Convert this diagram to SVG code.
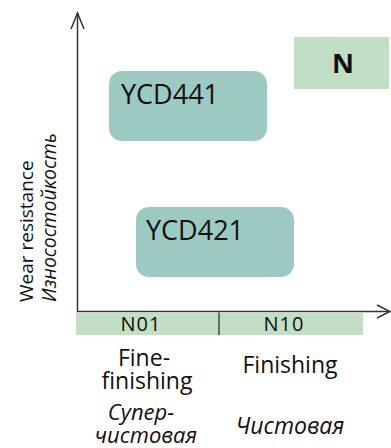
<svg xmlns="http://www.w3.org/2000/svg" width="391" height="448" viewBox="0 0 391 448">
<style>
.t{font-family:"Open Sans","Noto Sans",sans-serif;fill:#111}
.box{fill:#9ccac2}
.lt{fill:#c2dfc6}
.ax{stroke:#333;stroke-width:1.5;fill:none}
</style>
<rect width="391" height="448" fill="#fff"/>
<g id="legend-N">
<rect class="lt" x="294" y="37" width="95" height="52"/>
<text class="t" x="343" y="73" font-size="27" font-weight="bold" text-anchor="middle">N</text>
</g>
<g id="YCD441">
<rect class="box" x="109" y="71" width="158" height="70" rx="13"/>
<text class="t" x="121" y="104" font-size="27">YCD441</text>
</g>
<g id="YCD421">
<rect class="box" x="136" y="207" width="158" height="70" rx="13"/>
<text class="t" x="146" y="240" font-size="27">YCD421</text>
</g>
<g id="connectors">
<path class="ax" d="M77.5 13 V311.5 H390"/>
<path class="ax" d="M71 29 L77.5 13 L84 29"/>
<path class="ax" d="M377 305 L390 311.5 L377 318"/>
</g>
<g id="x-scale">
<rect class="lt" x="76" y="312.5" width="287" height="22.5"/>
<line x1="219" y1="312.5" x2="219" y2="335" stroke="#222" stroke-width="1.2"/>
<text class="t" x="141" y="331" font-size="20" text-anchor="middle" letter-spacing="1">N01</text>
<text class="t" x="284" y="331" font-size="20" text-anchor="middle" letter-spacing="1">N10</text>
</g>
<g id="x-labels">
<text class="t" x="144" y="366" font-size="23" text-anchor="middle">Fine-</text>
<text class="t" x="147" y="389" font-size="23" text-anchor="middle">finishing</text>
<text class="t" x="290" y="373" font-size="23" text-anchor="middle">Finishing</text>
<text class="t" x="141" y="420" font-size="22" font-style="italic" text-anchor="middle">Супер-</text>
<text class="t" x="146" y="443" font-size="22" font-style="italic" text-anchor="middle">чистовая</text>
<text class="t" x="290" y="434" font-size="23" font-style="italic" text-anchor="middle">Чистовая</text>
</g>
<g id="y-labels">
<text class="t" transform="translate(33,302) rotate(-90)" font-size="19">Wear resistance</text>
<text class="t" transform="translate(56,302) rotate(-90)" font-size="19.5" font-style="italic">Износостойкость</text>
</g>
</svg>
